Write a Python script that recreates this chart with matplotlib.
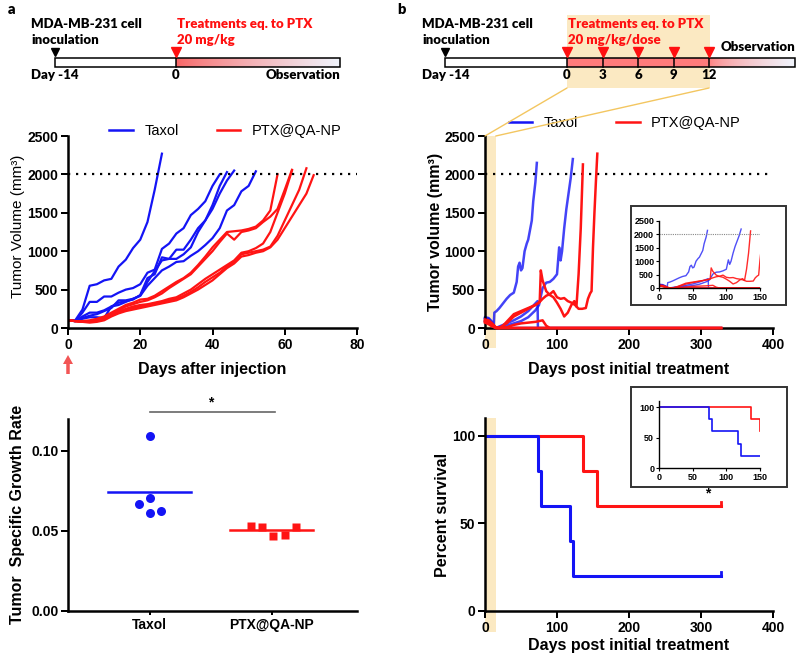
import numpy as np
import matplotlib
matplotlib.use('Agg')
import matplotlib.pyplot as plt
from matplotlib.patches import Rectangle, ConnectionPatch, FancyArrow
from matplotlib.lines import Line2D

plt.rcParams['font.family'] = ['Liberation Sans', 'DejaVu Sans']
plt.rcParams['font.weight'] = 'bold'
plt.rcParams['axes.labelweight'] = 'bold'

BLUE = '#1414f5'
RED = '#ff1414'
SAND = '#fbe9c2'
GOLD = '#f3c660'
TL_FONT = ['Lato', 'DejaVu Sans']

# ---------------- data ----------------
# panel a, tumour volume (mm3) measured every 2 days after injection
a_days = [0, 2, 4, 6, 8, 10, 12, 14, 16, 18, 20, 22, 24, 26, 28, 30, 32, 34,
          36, 38, 40, 42, 44, 46, 48, 50, 52, 54, 56, 58, 60, 62, 64, 66, 68]
a_taxol = [
    [100, 100, 240, 550, 570, 620, 640, 800, 890, 1040, 1150, 1380, 1800, 2270],
    [100, 90, 200, 340, 340, 410, 410, 460, 500, 520, 570, 720, 760, 1030, 1100,
     1230, 1300, 1470, 1550, 1650, 1850, 2000],
    [100, 90, 150, 200, 200, 230, 280, 330, 350, 370, 430, 650, 700, 920, 900,
     1020, 1020, 1150, 1300, 1400, 1600, 1850, 2030],
    [100, 90, 130, 160, 180, 220, 260, 360, 360, 380, 420, 600, 740, 880, 900,
     900, 960, 1050, 1250, 1400, 1550, 1750, 1920, 2050],
    [100, 90, 120, 140, 140, 130, 280, 300, 340, 380, 420, 550, 650, 750, 800,
     860, 870, 940, 1000, 1080, 1170, 1300, 1530, 1600, 1780, 1850, 2040],
]
a_ptx = [
    [100, 90, 90, 100, 120, 150, 200, 250, 300, 330, 370, 380, 420, 480, 540,
     600, 650, 720, 820, 930, 1050, 1150, 1250, 1260, 1270, 1290, 1320, 1400,
     1530, 2000],
    [100, 90, 80, 90, 110, 140, 180, 230, 280, 310, 340, 360, 400, 450, 520,
     580, 640, 700, 800, 900, 1000, 1120, 1230, 1150, 1250, 1270, 1300, 1380,
     1450, 1550, 1800, 2060],
    [100, 90, 80, 80, 90, 110, 160, 200, 240, 260, 280, 300, 320, 340, 360,
     380, 420, 470, 530, 600, 660, 720, 800, 860, 960, 980, 1000, 1020, 1060,
     1200, 1400, 1600, 1800, 2080],
    [100, 90, 80, 70, 80, 100, 150, 190, 220, 240, 260, 280, 300, 320, 340,
     360, 400, 450, 500, 560, 620, 700, 780, 840, 930, 950, 980, 1000, 1050,
     1150, 1300, 1450, 1600, 1750, 1990],
    [100, 90, 80, 90, 100, 120, 170, 210, 250, 280, 300, 310, 330, 350, 380,
     400, 450, 500, 570, 640, 700, 760, 820, 880, 980, 1000, 1040, 1100, 1250,
     1500, 1750, 2050],
]

# specific growth rate
sgr_groups = ['Taxol', 'PTX@QA-NP']
sgr_taxol = [0.1094, 0.0706, 0.0669, 0.0611, 0.0625]
sgr_ptx = [0.0533, 0.0527, 0.0471, 0.0474, 0.0527]

# panel b, tumour volume after 5 doses (days post initial treatment)
b_taxol_days = [
    [0, 5, 10, 12, 13, 16, 20, 25, 30, 35, 40, 44, 46, 48, 50, 52, 55, 58, 60,
     63, 65, 67, 70, 72],
    [0, 5, 10, 15, 20, 30, 40, 50, 60, 70, 75, 80, 85, 90, 95, 100, 103, 105,
     107, 110, 113, 116, 119, 122],
    [0, 5, 10, 15, 20, 30, 40, 50, 60, 70, 73, 73.5],
    [0, 5, 10, 13, 328],
]
b_taxol = [
    [130, 120, 60, 10, 200, 220, 260, 320, 380, 430, 460, 600, 800, 850, 750,
     780, 1000, 1100, 1150, 1300, 1400, 1650, 1900, 2150],
    [90, 70, 30, 0, 10, 30, 60, 90, 140, 230, 300, 520, 590, 600, 640, 700,
     1050, 880, 1000, 1300, 1550, 1750, 1950, 2200],
    [120, 100, 50, 0, 20, 60, 100, 150, 220, 320, 350, 0],
    [140, 130, 80, 0, 0],
]
b_ptx_days = [
    [0, 5, 10, 15, 20, 25, 30, 40, 50, 60, 70, 76, 77.5, 80, 85, 90, 95, 100,
     105, 110, 115, 120, 124, 127, 130, 133, 136],
    [0, 5, 10, 15, 20, 30, 40, 50, 60, 70, 75, 80, 85, 90, 95, 100, 105, 110,
     115, 120, 125, 130, 135, 140, 143, 146, 148, 150, 152, 154, 156],
    [0, 5, 10, 15, 20, 30, 40, 50, 60, 70, 75, 80, 85, 90, 328],
    [0, 5, 10, 15, 20, 328],
    [0, 5, 10, 15, 20, 328],
]
b_ptx = [
    [110, 100, 60, 10, 0, 30, 80, 180, 220, 260, 300, 340, 750, 620, 480, 430,
     400, 330, 250, 150, 200, 300, 350, 280, 700, 1300, 2130],
    [100, 80, 40, 10, 0, 60, 150, 200, 250, 300, 330, 380, 420, 440, 480, 400,
     380, 390, 350, 330, 300, 250, 250, 260, 380, 450, 480, 1050, 1500, 1900,
     2270],
    [90, 70, 30, 0, 0, 10, 40, 60, 70, 80, 90, 100, 30, 0, 0],
    [80, 60, 30, 0, 0, 0],
    [70, 50, 20, 0, 0, 0],
]

# survival (%)
surv_taxol_t = [0, 74, 78, 118, 122, 328]
surv_taxol = [100, 80, 60, 40, 20, 20]
surv_ptx_t = [0, 136, 156, 328]
surv_ptx = [100, 80, 60, 60]

treat_days = [0, 3, 6, 9, 12]


def pos(l, t, r, b):
    return [l / 800, 1 - b / 660, (r - l) / 800, (b - t) / 660]


def style(ax, lw=1.8, size=10, length=5):
    for s in ['top', 'right']:
        ax.spines[s].set_visible(False)
    for s in ['left', 'bottom']:
        ax.spines[s].set_linewidth(lw)
    ax.tick_params(width=lw * 0.8, length=length, labelsize=size, pad=2)
    ax.set_facecolor('none')


def gradient(ax, x0, x1, y0, y1, c0, c1, power=1.0):
    g = np.linspace(0, 1, 256) ** power
    c0 = np.array(c0) / 255
    c1 = np.array(c1) / 255
    img = c0[None, :] * (1 - g[:, None]) + c1[None, :] * g[:, None]
    ax.imshow(img[None, :, :], extent=(x0, x1, y1, y0), aspect='auto',
              interpolation='bilinear', zorder=2)


fig = plt.figure(figsize=(8, 6.6), dpi=100)

# ---------------- schematic overlay (pixel coordinates) ----------------
ax0 = fig.add_axes([0, 0, 1, 1])
ax0.axis('off')
tl = dict(family=TL_FONT, size=9.5, va='center', fontweight='heavy')

bt, bb = 58, 67
# panel a timeline
ax0.add_patch(Rectangle((55, bt), 121, bb - bt, fc='white', ec='none', zorder=1))
gradient(ax0, 176, 340, bt, bb, (248, 100, 100), (240, 244, 252), power=0.8)
ax0.add_patch(Rectangle((55, bt), 285, bb - bt, fc='none', ec='black', lw=1.1, zorder=3))
ax0.plot([176, 176], [bt, bb], color='black', lw=1.1, zorder=3)
ax0.plot([55], [52], marker='v', color='black', ms=6, zorder=3)
ax0.plot([176], [52], marker='v', color='#ff1010', ms=7, zorder=3)
ax0.text(31, 24, 'MDA-MB-231 cell', **tl)
ax0.text(31, 40, 'inoculation', **tl)
ax0.text(177, 24, 'Treatments eq. to PTX', color='#ff1010', **tl)
ax0.text(177, 40, '20 mg/kg', color='#ff1010', **tl)
ax0.text(31, 75, 'Day -14', **tl)
ax0.text(176, 75, '0', ha='center', **tl)
ax0.text(340, 75, 'Observation', ha='right', **tl)
ax0.text(8, 9, 'a', family=TL_FONT, size=10.5, va='center', fontweight='heavy')

# panel b timeline
tx0, tx12 = 567, 709
tpos = [tx0 + d * (tx12 - tx0) / treat_days[-1] for d in treat_days]
ax0.add_patch(Rectangle((tx0, 15), tx12 - tx0 + 1, 73, fc=SAND, ec='none', zorder=0))
ax0.add_patch(Rectangle((445, bt), tx0 - 445, bb - bt, fc='white', ec='none', zorder=1))
ax0.add_patch(Rectangle((tx0, bt), tx12 - tx0, bb - bt, fc='#ff7b7b', ec='none', zorder=1))
gradient(ax0, tx12, 795, bt, bb, (255, 123, 123), (240, 244, 252), power=0.6)
ax0.add_patch(Rectangle((445, bt), 350, bb - bt, fc='none', ec='black', lw=1.1, zorder=3))
ax0.plot([445], [52], marker='v', color='black', ms=6, zorder=3)
for d, xp in zip(treat_days, tpos):
    ax0.plot([xp, xp], [bt, bb], color='black', lw=1.1, zorder=3)
    ax0.plot([xp], [52], marker='v', color='#ff1010', ms=7, zorder=3)
    ax0.text(xp, 75, str(d), ha='center', **tl)
ax0.text(422, 24, 'MDA-MB-231 cell', **tl)
ax0.text(422, 40, 'inoculation', **tl)
ax0.text(568, 24, 'Treatments eq. to PTX', color='#ff1010', **tl)
ax0.text(568, 40, '20 mg/kg/dose', color='#ff1010', **tl)
ax0.text(422, 75, 'Day -14', **tl)
ax0.text(795, 47, 'Observation', ha='right', **tl)
ax0.text(397, 9, 'b', family=TL_FONT, size=10.5, va='center', fontweight='heavy')

# inset frames
ax0.add_patch(Rectangle((631, 206), 155, 99, fc='white', ec='#333333', lw=1.4))
ax0.add_patch(Rectangle((631, 387), 156, 100, fc='white', ec='#333333', lw=1.4))

# injection arrow below panel a
ax0.add_patch(FancyArrow(68, 374, 0, -19, width=3.5, head_width=10, head_length=9,
                         length_includes_head=True, color='#f25555', lw=0))

ax0.set_xlim(0, 800)
ax0.set_ylim(660, 0)

# ---------------- panel a: tumour growth ----------------
axA = fig.add_axes(pos(68, 136, 357, 328))
style(axA)
for v in a_taxol:
    axA.plot(a_days[:len(v)], v, color=BLUE, lw=1.6)
for v in a_ptx:
    axA.plot(a_days[:len(v)], v, color=RED, lw=1.6)
axA.plot([0, 80], [2000, 2000], color='black', lw=1.6, ls=(0, (1, 2.6)))
axA.set_xlim(0, 80)
axA.set_ylim(0, 2500)
axA.set_xticks([0, 20, 40, 60, 80])
axA.set_yticks([0, 500, 1000, 1500, 2000, 2500])
axA.set_xlabel('Days after injection', size=11.5)
axA.xaxis.set_label_coords(0.5, -0.175)
axA.set_ylabel('Tumor Volume (mm³)', size=11, fontweight='normal')
axA.yaxis.set_label_coords(-0.15, 0.53)
hA = [Line2D([], [], color=BLUE, lw=1.8), Line2D([], [], color=RED, lw=1.8)]
axA.legend(hA, ['Taxol', 'PTX@QA-NP'], ncol=2, frameon=False, loc='center',
           bbox_to_anchor=(0.545, 1.026), handlelength=1.6, columnspacing=2.6,
           prop={'size': 10.5, 'weight': 'normal'}, borderpad=0)

# ---------------- panel b: tumour growth ----------------
axB = fig.add_axes(pos(485, 136, 773, 328))
style(axB)
axB.add_patch(Rectangle((0, -260), 15, 2760, fc=SAND, ec='none', clip_on=False, zorder=0.5))
for t, v in zip(b_taxol_days, b_taxol):
    axB.plot(t, v, color=BLUE, lw=1.8, alpha=0.8, clip_on=False)
for t, v in zip(b_ptx_days, b_ptx):
    axB.plot(t, v, color=RED, lw=1.8, clip_on=False, zorder=3)
axB.plot([0, 400], [2000, 2000], color='black', lw=1.6, ls=(0, (1, 2.6)))
axB.set_xlim(0, 400)
axB.set_ylim(0, 2500)
axB.set_xticks([0, 100, 200, 300, 400])
axB.set_yticks([0, 500, 1000, 1500, 2000, 2500])
axB.set_xlabel('Days post initial treatment', size=11.5)
axB.xaxis.set_label_coords(0.5, -0.175)
axB.set_ylabel('Tumor volume (mm³)', size=11.5)
axB.yaxis.set_label_coords(-0.145, 0.5)
axB.legend(hA, ['Taxol', 'PTX@QA-NP'], ncol=2, frameon=False, loc='center',
           bbox_to_anchor=(0.486, 1.068), handlelength=1.6, columnspacing=2.6,
           prop={'size': 10.5, 'weight': 'normal'}, borderpad=0)

# inset
axBi = fig.add_axes(pos(659, 221, 760, 288))
style(axBi, lw=1.0, size=6.5, length=2.5)
for t, v in zip(b_taxol_days, b_taxol):
    axBi.plot(t, v, color=BLUE, lw=1.0, alpha=0.75)
for t, v in zip(b_ptx_days, b_ptx):
    axBi.plot(t, v, color=RED, lw=1.0, alpha=0.9)
axBi.plot([0, 150], [2000, 2000], color='#888888', lw=0.8, ls=(0, (1, 1)))
axBi.set_xlim(0, 150)
axBi.set_ylim(0, 2500)
axBi.set_xticks([0, 50, 100, 150])
axBi.set_yticks([0, 500, 1000, 1500, 2000, 2500])
axBi.tick_params(pad=1)

# connector lines from treatment window to the plot
for xp, d in [(tx0, 0), (tx12, 15)]:
    con = ConnectionPatch(xyA=(xp, 88), coordsA=ax0.transData,
                          xyB=(d, 2500), coordsB=axB.transData,
                          color=GOLD, lw=1.0)
    fig.add_artist(con)

# ---------------- panel a: specific growth rate ----------------
axC = fig.add_axes(pos(68, 419, 357, 611))
style(axC)
off_taxol = [0, 0, -0.09, 0, 0.09]
off_ptx = [-0.17, -0.08, 0.01, 0.11, 0.2]
axC.plot(np.array(off_taxol) + 0, sgr_taxol, 'o', color=BLUE, ms=6.5, mec='none')
axC.plot(np.array(off_ptx) + 1, sgr_ptx, 's', color=RED, ms=6, mec='none')
axC.plot([-0.34, 0.34], [np.mean(sgr_taxol)] * 2, color=BLUE, lw=1.8)
axC.plot([1 - 0.34, 1 + 0.34], [np.mean(sgr_ptx)] * 2, color=RED, lw=1.8)
axC.plot([0, 1.03], [0.1244, 0.1244], color='#666666', lw=1.2, clip_on=False)
axC.text(0.5, 0.126, '*', ha='center', va='bottom', size=10)
axC.set_xlim(-0.67, 1.7)
axC.set_ylim(0, 0.12)
axC.set_xticks([0, 1])
axC.set_xticklabels(sgr_groups)
axC.set_yticks([0, 0.05, 0.10])
axC.set_yticklabels(['0.00', '0.05', '0.10'])
axC.tick_params(axis='x', length=3)
axC.set_ylabel('Tumor  Specific Growth Rate', size=11.5)
axC.yaxis.set_label_coords(-0.15, 0.505)

# ---------------- panel b: survival ----------------
axD = fig.add_axes(pos(485, 418, 773, 611))
style(axD)
axD.add_patch(Rectangle((0, -12), 15, 122, fc=SAND, ec='none', clip_on=False, zorder=0.5))
axD.step(surv_ptx_t, surv_ptx, where='post', color=RED, lw=2.2)
axD.step(surv_taxol_t, surv_taxol, where='post', color=BLUE, lw=2.2)
axD.plot([surv_ptx_t[-1]] * 2, [surv_ptx[-1], surv_ptx[-1] + 2], color=RED, lw=2)
axD.plot([surv_taxol_t[-1]] * 2, [surv_taxol[-1], surv_taxol[-1] + 2], color=BLUE, lw=2)
axD.text(310, 63, '*', ha='center', va='bottom', size=10)
axD.set_xlim(0, 400)
axD.set_ylim(0, 110)
axD.set_xticks([0, 100, 200, 300, 400])
axD.set_yticks([0, 50, 100])
axD.set_xlabel('Days post initial treatment', size=11.5)
axD.xaxis.set_label_coords(0.5, -0.14)
axD.set_ylabel('Percent survival', size=11.5)
axD.yaxis.set_label_coords(-0.12, 0.5)

axDi = fig.add_axes(pos(659, 401, 760, 468))
style(axDi, lw=1.0, size=6.5, length=2.5)
# inset is cut at day 150, so later events collapse onto its right edge
axDi.step(np.minimum(surv_ptx_t, 150), surv_ptx, where='post', color=RED, lw=1.2)
axDi.step(np.minimum(surv_taxol_t, 150), surv_taxol, where='post', color=BLUE, lw=1.2)
axDi.set_xlim(0, 150)
axDi.set_ylim(0, 110)
axDi.set_xticks([0, 50, 100, 150])
axDi.set_yticks([0, 50, 100])
axDi.tick_params(pad=1)

fig.savefig('out.png', dpi=100)
